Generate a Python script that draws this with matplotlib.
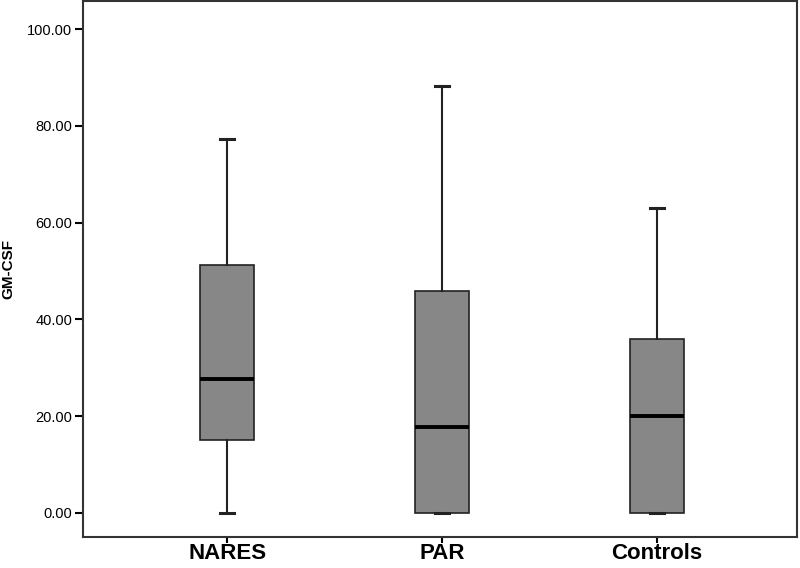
import matplotlib.pyplot as plt

plt.rcParams['font.family'] = ['Liberation Sans', 'DejaVu Sans']

groups = ['NARES', 'PAR', 'Controls']
whislo = [0.0, 0.0, 0.0]
q1 = [15.1, 0.0, 0.0]
med = [27.7, 17.8, 20.0]
q3 = [51.2, 45.8, 36.0]
whishi = [77.3, 88.3, 63.1]

stats = []
for i, g in enumerate(groups):
    stats.append({'label': g, 'whislo': whislo[i], 'q1': q1[i], 'med': med[i],
                  'q3': q3[i], 'whishi': whishi[i], 'fliers': []})

fig = plt.figure(figsize=(8, 5.68), dpi=100)
ax = fig.add_axes([0.104, 0.0545, 0.892, 0.9435])

ax.bxp(stats, positions=[1, 2, 3], widths=0.25, capwidths=0.065,
       patch_artist=True, showfliers=False,
       boxprops=dict(facecolor='#878787', edgecolor='#222222', linewidth=1.2),
       medianprops=dict(color='black', linewidth=2.8),
       whiskerprops=dict(color='#222222', linewidth=1.5),
       capprops=dict(color='#222222', linewidth=2.2))

ax.set_xlim(0.33, 3.65)
ax.set_ylim(-5.0, 105.8)
ax.set_yticks([0, 20, 40, 60, 80, 100])
ax.set_yticklabels(['%.2f' % v for v in [0, 20, 40, 60, 80, 100]], fontsize=10.5)
ax.set_xticks([1, 2, 3])
ax.set_xticklabels(groups, fontsize=16, fontweight='bold')
ax.tick_params(axis='y', length=6, width=1.5, pad=2)
ax.tick_params(axis='x', length=4, width=1.5, pad=0.5)
ax.set_ylabel('GM-CSF', fontsize=11, fontweight='bold', labelpad=8)

for s in ax.spines.values():
    s.set_linewidth(1.5)
    s.set_color('#333333')

plt.savefig('out.png', dpi=100)
